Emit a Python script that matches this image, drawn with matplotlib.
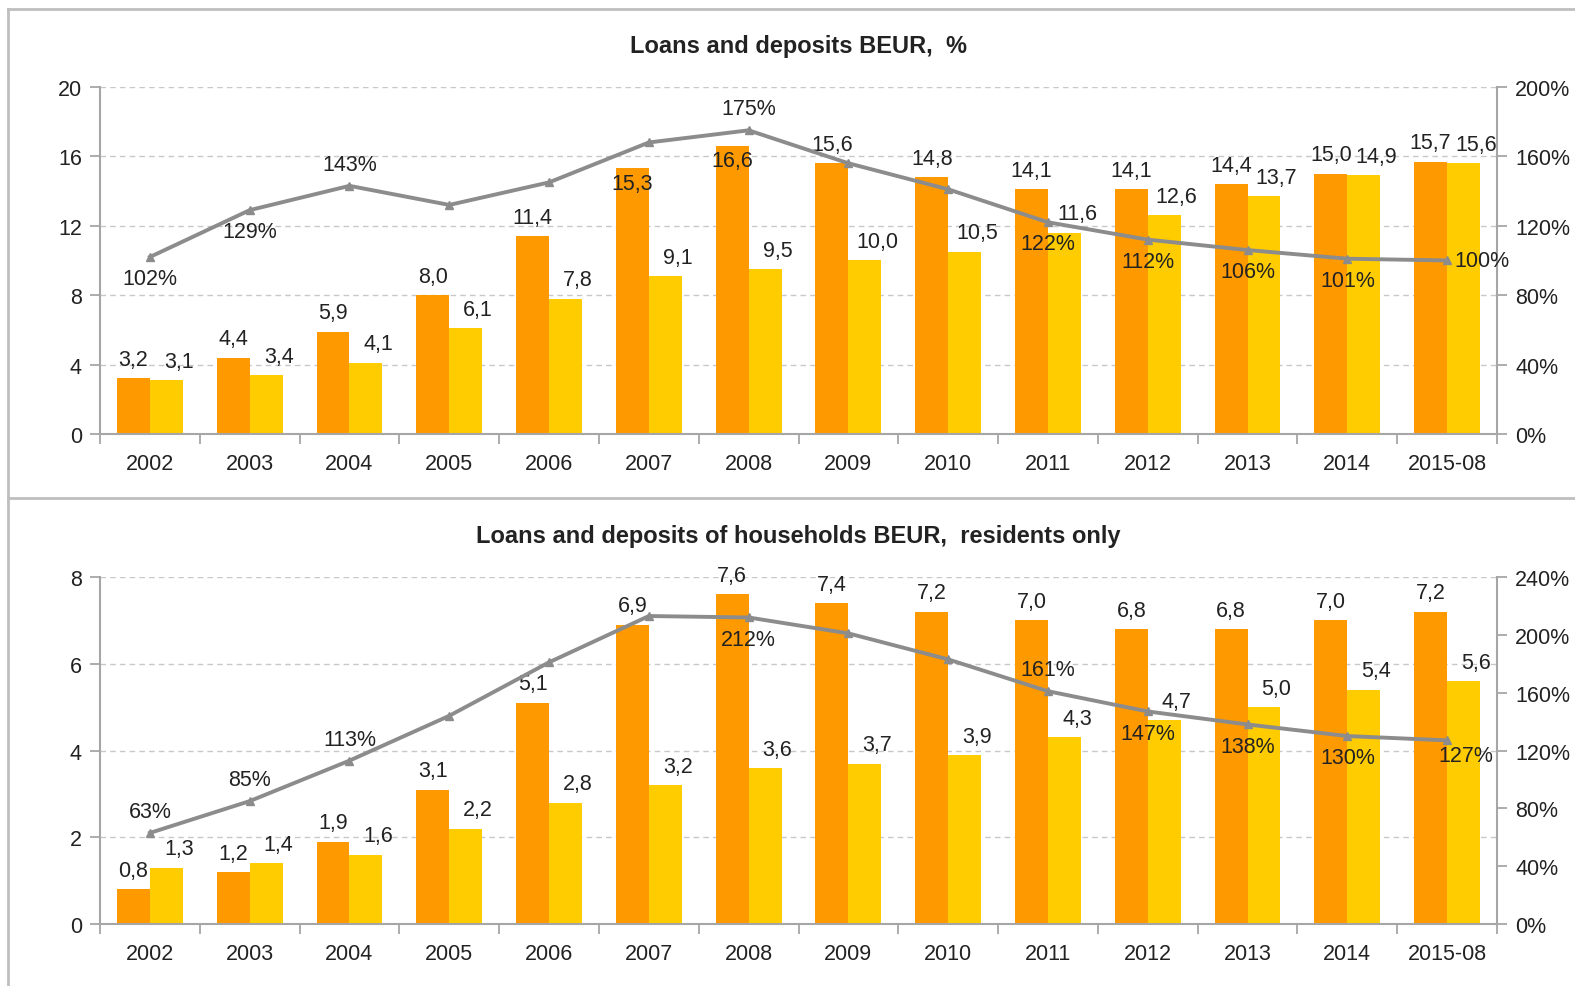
import numpy as np
import matplotlib.pyplot as plt
from matplotlib.lines import Line2D

plt.rcParams['font.family'] = ['Liberation Sans', 'DejaVu Sans']

years = ['2002', '2003', '2004', '2005', '2006', '2007', '2008', '2009',
         '2010', '2011', '2012', '2013', '2014', '2015-08']

# top chart: all loans / deposits, BEUR
loans_all = [3.2, 4.4, 5.9, 8.0, 11.4, 15.3, 16.6, 15.6, 14.8, 14.1, 14.1, 14.4, 15.0, 15.7]
deposits_all = [3.1, 3.4, 4.1, 6.1, 7.8, 9.1, 9.5, 10.0, 10.5, 11.6, 12.6, 13.7, 14.9, 15.6]
ratio_all = [102, 129, 143, 132, 145, 168, 175, 156, 141, 122, 112, 106, 101, 100]
ratio_all_shown = [True, True, True, False, False, False, True, False, False, True, True, True, True, True]
ratio_all_pos = ['below', 'below', 'above', '', '', '', 'above', '', '', 'below',
                 'below', 'below', 'below', 'right']
loans_all_inside = [False, False, False, False, False, True, True, False, False, False,
                    False, False, False, False]

# bottom chart: households, residents only
loans_hh = [0.8, 1.2, 1.9, 3.1, 5.1, 6.9, 7.6, 7.4, 7.2, 7.0, 6.8, 6.8, 7.0, 7.2]
deposits_hh = [1.3, 1.4, 1.6, 2.2, 2.8, 3.2, 3.6, 3.7, 3.9, 4.3, 4.7, 5.0, 5.4, 5.6]
ratio_hh = [63, 85, 113, 144, 181, 213, 212, 201, 183, 161, 147, 138, 130, 127]
ratio_hh_shown = [True, True, True, False, False, False, True, False, False, True, True, True, True, True]
ratio_hh_pos = ['above', 'above', 'above', '', '', '', 'below', '', '', 'above',
                'below', 'below', 'below', 'rightbelow']
loans_hh_inside = [False] * 14

ORANGE = '#FF9900'
YELLOW = '#FFCC00'
LINEGRAY = '#8C8C8C'
AXGRAY = '#A6A6A6'
TXT = '#222222'
FS = 15.5


def comma(v):
    return f'{v:.1f}'.replace('.', ',')


def draw_panel(ax, title, loans, deposits, inside, ratio, shown, pos, ymax, ystep, rmax):
    x = np.arange(len(years))
    w = 0.33
    ax.bar(x - w / 2, loans, w, color=ORANGE, zorder=2)
    ax.bar(x + w / 2, deposits, w, color=YELLOW, zorder=2)
    for xi, v, ins in zip(x, loans, inside):
        if ins:
            off, va = (0, -3), 'top'
        else:
            off, va = (0, 6), 'bottom'
        ax.annotate(comma(v), (xi - w / 2, v), xytext=off, textcoords='offset points',
                    ha='center', va=va, fontsize=FS, color=TXT, zorder=5)
    for xi, v in zip(x, deposits):
        ax.annotate(comma(v), (xi + w / 2, v), xytext=(9, 6), textcoords='offset points',
                    ha='center', va='bottom', fontsize=FS, color=TXT, zorder=5)

    ax.set_xlim(-0.5, len(years) - 0.5)
    ax.set_ylim(0, ymax)
    ax.set_yticks(np.arange(0, ymax + 0.01, ystep))
    ax.set_xticks(x)
    ax.set_xticklabels(years)
    ax.set_xticks(np.arange(-0.5, len(years), 1.0), minor=True)
    ax.tick_params(axis='x', which='major', length=0, pad=14, labelsize=FS, labelcolor=TXT)
    ax.tick_params(axis='x', which='minor', length=7, color=AXGRAY, width=1.3, direction='out')
    ax.tick_params(axis='y', length=7, color=AXGRAY, width=1.3, pad=6, labelsize=FS, labelcolor=TXT)
    ax.yaxis.grid(True, linestyle=(0, (4, 3)), color='#C8C8C8', linewidth=1)
    ax.set_axisbelow(True)
    for s in ['top', 'right']:
        ax.spines[s].set_visible(False)
    for s in ['left', 'bottom']:
        ax.spines[s].set_color(AXGRAY)
        ax.spines[s].set_linewidth(1.5)
    ax.set_title(title, fontsize=17, fontweight='bold', color=TXT, pad=25)

    ax2 = ax.twinx()
    ax2.plot(x, ratio, color=LINEGRAY, linewidth=2.8, marker='^', markersize=6,
             markerfacecolor=LINEGRAY, markeredgecolor=LINEGRAY, zorder=4)
    ax2.set_ylim(0, rmax)
    ax2.set_yticks(np.arange(0, rmax + 1, 40))
    ax2.set_yticklabels([f'{t}%' for t in range(0, rmax + 1, 40)])
    ax2.tick_params(axis='y', length=7, color=AXGRAY, width=1.3, pad=6, labelsize=FS, labelcolor=TXT)
    for s in ['top', 'left', 'bottom']:
        ax2.spines[s].set_visible(False)
    ax2.spines['right'].set_color(AXGRAY)
    ax2.spines['right'].set_linewidth(1.5)
    for xi, v, sh, p in zip(x, ratio, shown, pos):
        if not sh:
            continue
        if p == 'above':
            off, ha, va = (0, 8), 'center', 'bottom'
        elif p == 'below':
            off, ha, va = (0, -8), 'center', 'top'
        elif p == 'rightbelow':
            off, ha, va = (-6, -3), 'left', 'top'
        else:
            off, ha, va = (5, 0), 'left', 'center'
        ax2.annotate(f'{v}%', (xi, v), xytext=off, textcoords='offset points',
                     ha=ha, va=va, fontsize=FS, color=TXT, zorder=6)
    return ax2


fig = plt.figure(figsize=(15.75, 9.87), dpi=100)

ax_top = fig.add_axes([0.0635, 0.5593, 0.887, 0.3516])
draw_panel(ax_top, 'Loans and deposits BEUR,  %', loans_all, deposits_all, loans_all_inside,
           ratio_all, ratio_all_shown, ratio_all_pos, 20, 4, 200)

ax_bot = fig.add_axes([0.0635, 0.0628, 0.887, 0.3516])
draw_panel(ax_bot, 'Loans and deposits of households BEUR,  residents only', loans_hh,
           deposits_hh, loans_hh_inside, ratio_hh, ratio_hh_shown, ratio_hh_pos, 8, 2, 240)

# frame borders of the two chart boxes
frame = dict(color='#BFBFBF', linewidth=2, transform=fig.transFigure)
fig.add_artist(Line2D([0.0051, 0.0051], [0.0, 0.9899], **frame))
fig.add_artist(Line2D([0.0051, 1.0], [0.9899, 0.9899], **frame))
fig.add_artist(Line2D([0.0051, 1.0], [0.4944, 0.4944], **frame))

fig.savefig('out.png', dpi=100)
